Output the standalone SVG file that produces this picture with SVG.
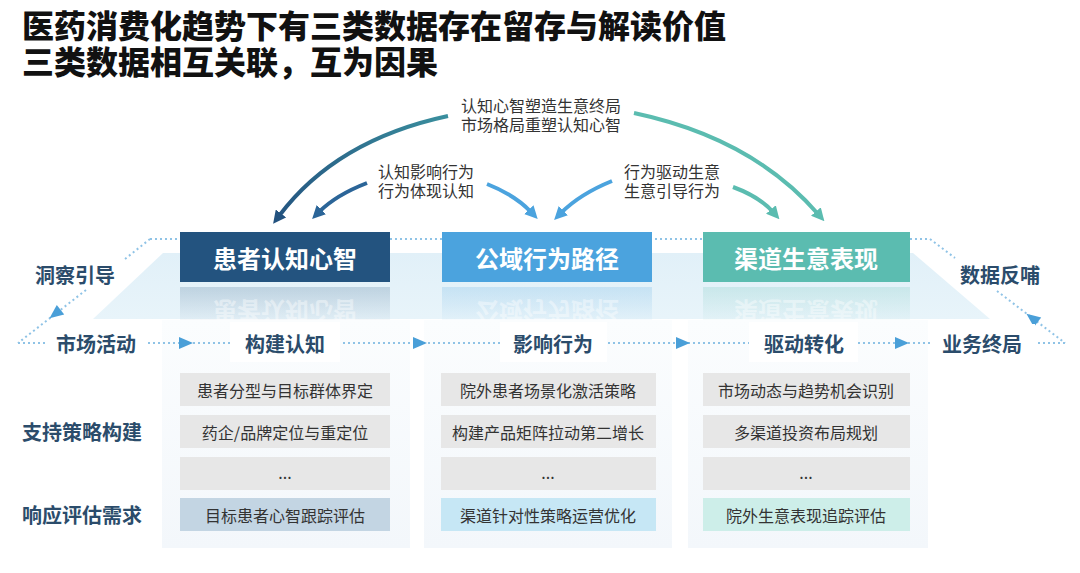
<svg xmlns="http://www.w3.org/2000/svg" width="1080" height="573" viewBox="0 0 1080 573">
<style>
text{font-family:"Noto Sans CJK SC","Noto Sans",sans-serif;dominant-baseline:central}
.title{font-size:32px;font-weight:900;fill:#111}
.arcl{font-size:16px;fill:#333;text-anchor:middle}
.node{font-size:24px;font-weight:700;fill:#fff;text-anchor:middle}
.refl{font-size:24px;font-weight:700;fill:#fff;text-anchor:middle;opacity:.4}
.side{font-size:20px;font-weight:700;fill:#2b4c6b}
.step{font-size:20px;font-weight:700;fill:#2b4c6b;text-anchor:middle}
.item{font-size:16px;fill:#333;text-anchor:middle}
.dot{stroke:#8fc3e6;stroke-width:2;stroke-dasharray:2 3;fill:none}
.arc{fill:none;stroke-width:4}
.ah{fill:#4a9fd8}
.cell{fill:#e7e7e7}
.lbg{fill:#fff}
</style>
<defs>
<linearGradient id="gL" x1="448" y1="116" x2="272" y2="225" gradientUnits="userSpaceOnUse"><stop offset="0" stop-color="#3a8f9e"/><stop offset="1" stop-color="#23527f"/></linearGradient>
<linearGradient id="plat" x1="0" y1="0" x2="0" y2="1"><stop offset="0" stop-color="#e1f0f8"/><stop offset="1" stop-color="#e8f4fa"/></linearGradient>
<linearGradient id="pan" x1="0" y1="0" x2="0" y2="1"><stop offset="0" stop-color="#fbfdfe"/><stop offset="1" stop-color="#f3f7fb"/></linearGradient>
<linearGradient id="r1" x1="0" y1="0" x2="0" y2="1"><stop offset="0" stop-color="#23537f" stop-opacity=".2"/><stop offset="1" stop-color="#23537f" stop-opacity=".04"/></linearGradient>
<linearGradient id="r2" x1="0" y1="0" x2="0" y2="1"><stop offset="0" stop-color="#4ba3de" stop-opacity=".2"/><stop offset="1" stop-color="#4ba3de" stop-opacity=".04"/></linearGradient>
<linearGradient id="r3" x1="0" y1="0" x2="0" y2="1"><stop offset="0" stop-color="#5bbcb0" stop-opacity=".2"/><stop offset="1" stop-color="#5bbcb0" stop-opacity=".04"/></linearGradient>
<clipPath id="cr"><rect x="0" y="294" width="1080" height="26"/></clipPath>
<marker id="mNavy" viewBox="0 0 12 12" markerWidth="13" markerHeight="13" refX="3" refY="6" orient="auto" markerUnits="userSpaceOnUse"><path d="M0,0 L12,6 L0,12 z" fill="#23527f"/></marker>
<marker id="mNavy2" viewBox="0 0 12 12" markerWidth="13" markerHeight="13" refX="3" refY="6" orient="auto" markerUnits="userSpaceOnUse"><path d="M0,0 L12,6 L0,12 z" fill="#2b6598"/></marker>
<marker id="mBlue" viewBox="0 0 12 12" markerWidth="13" markerHeight="13" refX="3" refY="6" orient="auto" markerUnits="userSpaceOnUse"><path d="M0,0 L12,6 L0,12 z" fill="#4ba3de"/></marker>
<marker id="mTeal" viewBox="0 0 12 12" markerWidth="13" markerHeight="13" refX="3" refY="6" orient="auto" markerUnits="userSpaceOnUse"><path d="M0,0 L12,6 L0,12 z" fill="#5bbcb0"/></marker>
</defs>
<rect width="1080" height="573" fill="#fff"/>

<g id="title">
<text class="title" x="22" y="24">医药消费化趋势下有三类数据存在留存与解读价值</text>
<text class="title" x="22" y="60">三类数据相互关联，互为因果</text>
</g>

<g id="background">
<polygon points="93,319 163,253 913,253 990,319" fill="url(#plat)"/>
<rect x="162" y="320" width="248" height="228" fill="url(#pan)"/>
<rect x="424" y="320" width="248" height="228" fill="url(#pan)"/>
<rect x="688" y="320" width="240" height="228" fill="url(#pan)"/>
</g>

<g id="connectors">
<path class="dot" d="M150,239 H930"/>
<path class="dot" d="M150,239 L125,259"/>
<path class="dot" d="M86,290 L18,343"/>
<path class="dot" d="M930,239 L955,258"/>
<path class="dot" d="M997,291 L1065,343"/>
<path class="dot" d="M18,343 H1065"/>
<polygon class="ah" points="-7,-6 7,0 -7,6" transform="translate(55,314) rotate(141.8)"/>
<polygon class="ah" points="-7,-6 7,0 -7,6" transform="translate(1032,318) rotate(-142.4)"/>
<polygon class="ah" points="179,337 193,343 179,349"/>
<polygon class="ah" points="413,337 427,343 413,349"/>
<polygon class="ah" points="676,337 690,343 676,349"/>
<polygon class="ah" points="895,337 909,343 895,349"/>
<path class="arc" stroke="url(#gL)" marker-end="url(#mNavy)" d="M448,116 Q336,140 279,216"/>
<path class="arc" stroke="#5bbcb0" marker-end="url(#mTeal)" d="M634,113 Q752,138 818,214"/>
<path class="arc" stroke="#2b6598" marker-end="url(#mNavy2)" d="M367,183 Q336,195 319,212"/>
<path class="arc" stroke="#4ba3de" marker-end="url(#mBlue)" d="M487,184 Q515,195 531,212"/>
<path class="arc" stroke="#4ba3de" marker-end="url(#mBlue)" d="M612,181 Q580,194 561,213"/>
<path class="arc" stroke="#5bbcb0" marker-end="url(#mTeal)" d="M733,187 Q760,197 773,212"/>
</g>

<g id="arc-labels">
<text class="arcl" x="541" y="105">认知心智塑造生意终局</text>
<text class="arcl" x="541" y="124">市场格局重塑认知心智</text>
<text class="arcl" x="426" y="171">认知影响行为</text>
<text class="arcl" x="426" y="190">行为体现认知</text>
<text class="arcl" x="672" y="171">行为驱动生意</text>
<text class="arcl" x="672" y="190">生意引导行为</text>
</g>

<g id="node-patient">
<rect x="180" y="232" width="210" height="50" fill="#23537f"/>
<rect x="180" y="287" width="210" height="33" fill="url(#r1)"/>
<g clip-path="url(#cr)"><text class="refl" x="285" y="258" transform="translate(0,570) scale(1,-1)">患者认知心智</text></g>
<text class="node" x="285" y="257">患者认知心智</text>
</g>
<g id="node-behavior">
<rect x="442" y="232" width="210" height="50" fill="#4ba3de"/>
<rect x="442" y="287" width="210" height="33" fill="url(#r2)"/>
<g clip-path="url(#cr)"><text class="refl" x="547" y="258" transform="translate(0,570) scale(1,-1)">公域行为路径</text></g>
<text class="node" x="547" y="257">公域行为路径</text>
</g>
<g id="node-channel">
<rect x="703" y="232" width="207" height="50" fill="#5bbcb0"/>
<rect x="703" y="287" width="207" height="33" fill="url(#r3)"/>
<g clip-path="url(#cr)"><text class="refl" x="806" y="258" transform="translate(0,570) scale(1,-1)">渠道生意表现</text></g>
<text class="node" x="806" y="257">渠道生意表现</text>
</g>

<g id="side-labels">
<text class="side" x="35" y="274">洞察引导</text>
<text class="side" x="960" y="274">数据反哺</text>
<text class="side" x="22" y="431">支持策略构建</text>
<text class="side" x="22" y="514">响应评估需求</text>
</g>

<g id="steps">
<rect class="lbg" x="45" y="324" width="103" height="38"/>
<text class="step" x="96" y="343">市场活动</text>
<rect class="lbg" x="230" y="322" width="110" height="40"/>
<text class="step" x="285" y="343">构建认知</text>
<rect class="lbg" x="500" y="322" width="107" height="40"/>
<text class="step" x="553" y="343">影响行为</text>
<rect class="lbg" x="749" y="322" width="109" height="40"/>
<text class="step" x="804" y="343">驱动转化</text>
<rect class="lbg" x="932" y="324" width="103" height="38"/>
<text class="step" x="982" y="343">业务终局</text>
</g>

<g id="col-patient">
<rect class="cell" x="180" y="373" width="210" height="33"/>
<text class="item" x="285" y="389.5">患者分型与目标群体界定</text>
<rect class="cell" x="180" y="415" width="210" height="33"/>
<text class="item" x="285" y="431.5">药企/品牌定位与重定位</text>
<rect class="cell" x="180" y="457" width="210" height="33"/>
<text class="item" x="285" y="472">...</text>
<rect x="180" y="498" width="210" height="33" fill="#c3d5e3"/>
<text class="item" x="285" y="514.5">目标患者心智跟踪评估</text>
</g>
<g id="col-behavior">
<rect class="cell" x="441" y="373" width="215" height="33"/>
<text class="item" x="548" y="389.5">院外患者场景化激活策略</text>
<rect class="cell" x="441" y="415" width="215" height="33"/>
<text class="item" x="548" y="431.5">构建产品矩阵拉动第二增长</text>
<rect class="cell" x="441" y="457" width="215" height="33"/>
<text class="item" x="548" y="472">...</text>
<rect x="441" y="498" width="215" height="33" fill="#c6e7f5"/>
<text class="item" x="548" y="514.5">渠道针对性策略运营优化</text>
</g>
<g id="col-channel">
<rect class="cell" x="703" y="373" width="207" height="33"/>
<text class="item" x="806" y="389.5">市场动态与趋势机会识别</text>
<rect class="cell" x="703" y="415" width="207" height="33"/>
<text class="item" x="806" y="431.5">多渠道投资布局规划</text>
<rect class="cell" x="703" y="457" width="207" height="33"/>
<text class="item" x="806" y="472">...</text>
<rect x="703" y="498" width="207" height="33" fill="#cdeee9"/>
<text class="item" x="806" y="514.5">院外生意表现追踪评估</text>
</g>
</svg>
